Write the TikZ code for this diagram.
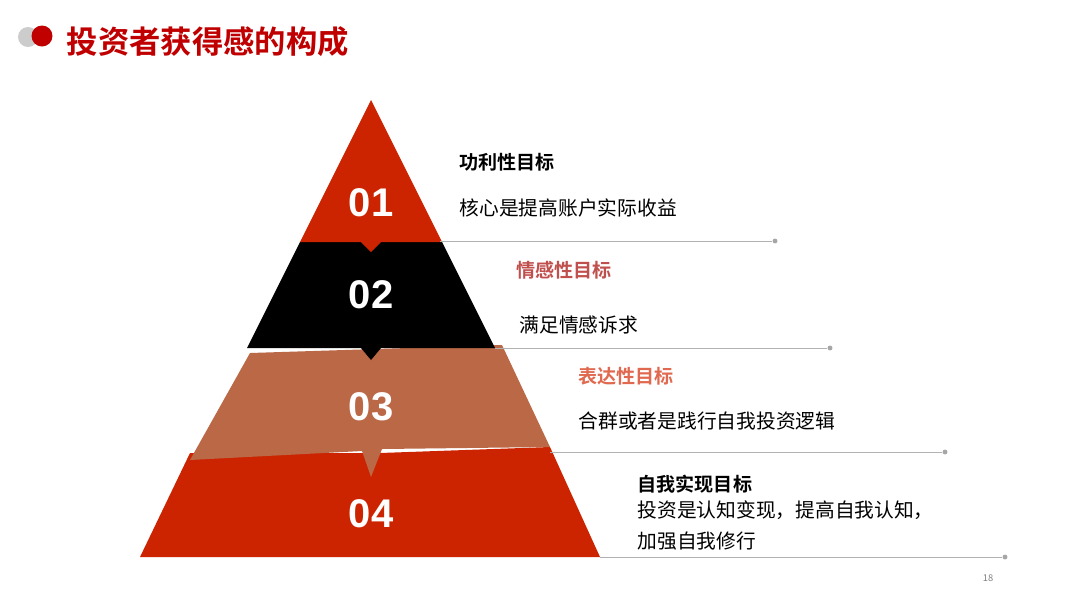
\documentclass[tikz,border=0pt]{standalone}
\usepackage{fontspec}
\setmainfont{Noto Sans CJK SC}
\newfontfamily\cjkb{Noto Sans CJK SC Bold}
\newfontfamily\numf{Liberation Sans}
\definecolor{redA}{HTML}{CC2400}
\definecolor{brownA}{HTML}{BA6846}
\definecolor{titleR}{HTML}{C00000}
\definecolor{h2}{HTML}{C0504D}
\definecolor{h3}{HTML}{E0694F}
\tikzset{x=0.75pt,y=-0.75pt,
 num/.style={text=white,font=\numf\bfseries\fontsize{30}{30}\selectfont},
 head/.style={anchor=west,font=\cjkb\fontsize{14.3}{16}\selectfont},
 body/.style={anchor=west,font=\fontsize{14.8}{16}\selectfont},
 gl/.style={draw=gray!60,line width=0.6pt},
 gd/.style={fill=gray!70,circle,inner sep=1.3pt}}
\begin{document}
\begin{tikzpicture}
\useasboundingbox[fill=white] (0,0) rectangle (1080,608);
\fill[gray!40] (28,37) circle (10);
\fill[titleR] (42,36) circle (10.5);
\node[anchor=west,text=titleR,font=\cjkb\fontsize{23.5}{26}\selectfont] (title) at (62,42) {投资者获得感的构成};
% layers
\fill[redA] (140,557) -- (190,453) -- (362,453) -- (371,453) -- (380,453) -- (550,447) -- (600,557) -- cycle;
\fill[brownA] (190,460) -- (250,353) -- (502,345) -- (550,447) -- (382,449) -- (371,477) -- (362,451) -- cycle;
\fill[black] (247,348) -- (300,242) -- (442,242) -- (495,348) -- (381,348) -- (371,360) -- (361,348) -- cycle;
\fill[redA] (300,242) -- (371,100) -- (442,242) -- (381,242) -- (371,252) -- (361,242) -- cycle;
\node[num] (n1) at (371,203) {01};
\node[num] (n2) at (371,295) {02};
\node[num] (n3) at (371,407) {03};
\node[num] (n4) at (371,514) {04};
% lines
\coordinate (a1) at (440,241); \node[gd] (d1) at (775,241) {}; \draw[gl] (a1) -- (d1);
\coordinate (a2) at (495,348); \node[gd] (d2) at (830,348) {}; \draw[gl] (a2) -- (d2);
\coordinate (a3) at (550,452); \node[gd] (d3) at (945,452) {}; \draw[gl] (a3) -- (d3);
\coordinate (a4) at (600,557); \node[gd] (d4) at (1005,557) {}; \draw[gl] (a4) -- (d4);
% texts
\node[head] (h1) at (455,162) {功利性目标};
\node[body] (b1) at (455,208) {核心是提高账户实际收益};
\node[head,text=h2] (h2n) at (512,270) {情感性目标};
\node[body] (b2) at (515,325) {满足情感诉求};
\node[head,text=h3] (h3n) at (574,376) {表达性目标};
\node[body] (b3) at (574,421) {合群或者是践行自我投资逻辑};
\node[head] (h4) at (633,484) {自我实现目标};
\node[body] (b4) at (633,510) {投资是认知变现，提高自我认知，};
\node[body] (b5) at (633,541) {加强自我修行};
\node[text=gray,font=\fontsize{7}{8}\selectfont] (pg) at (988,578) {18};
\end{tikzpicture}
\end{document}
